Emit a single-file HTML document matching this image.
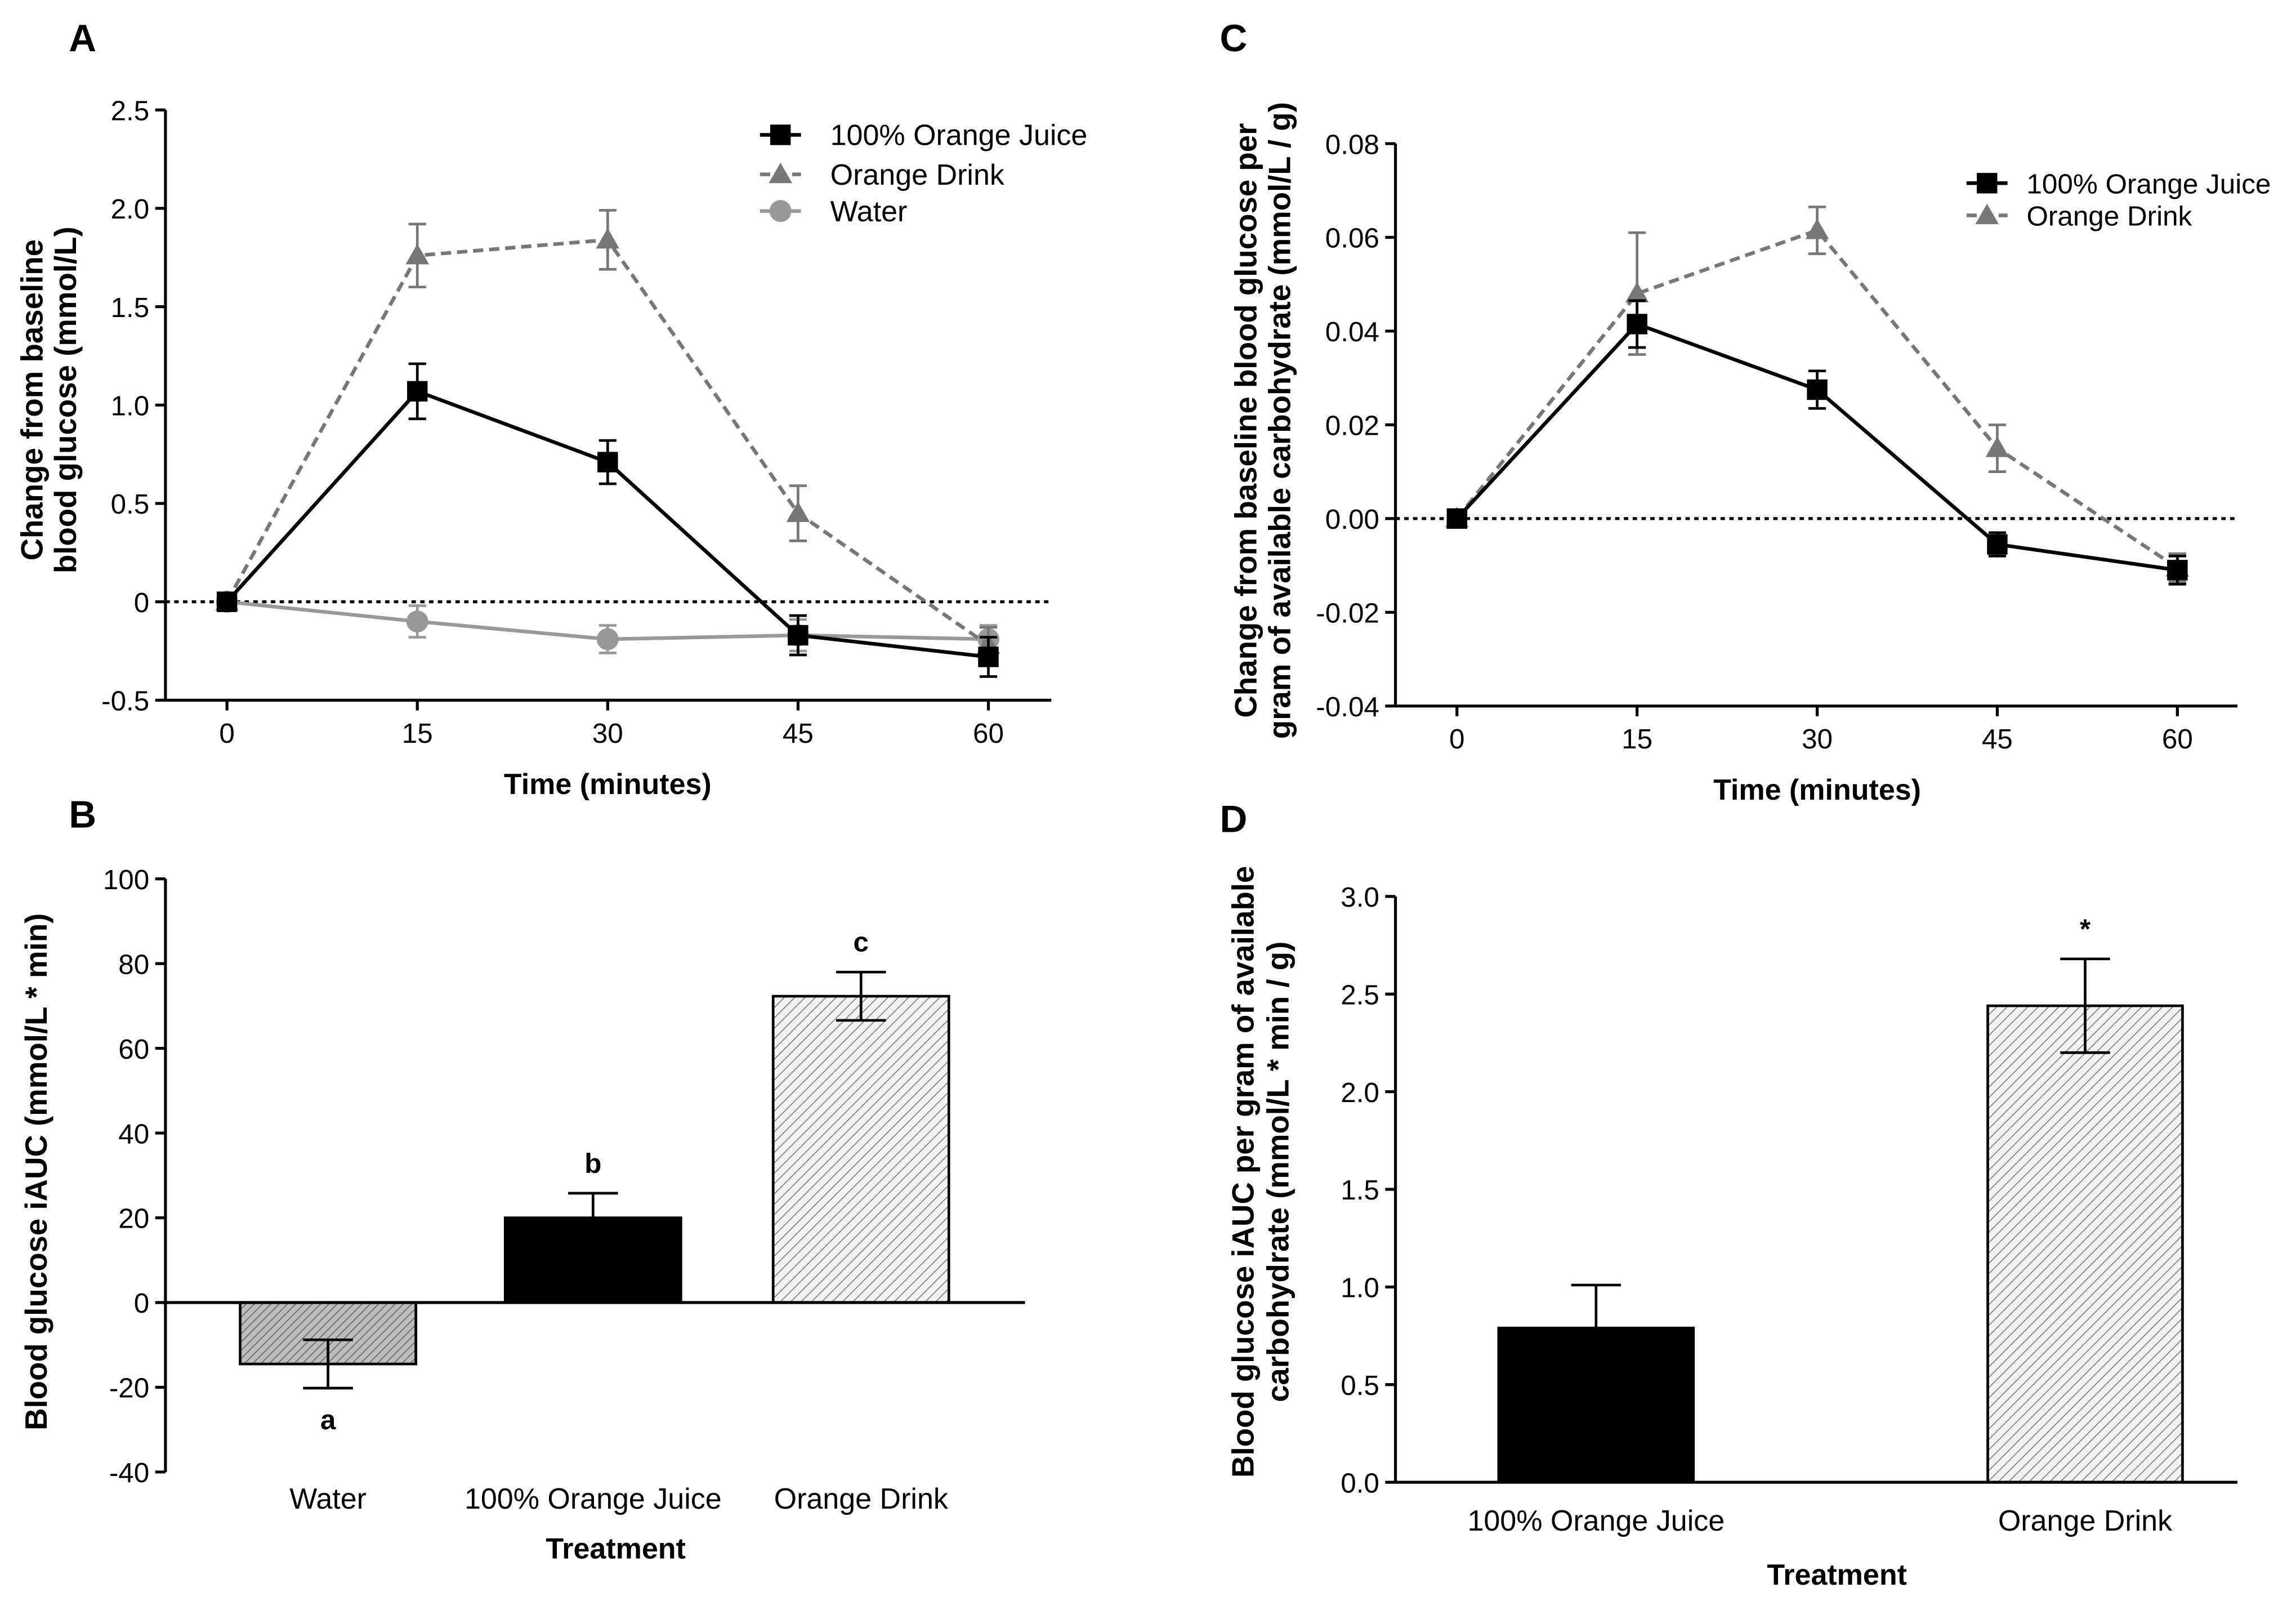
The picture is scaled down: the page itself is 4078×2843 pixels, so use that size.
<!DOCTYPE html>
<html><head><meta charset="utf-8"><style>
html,body{margin:0;padding:0;background:#fff}
svg{display:block}
text{font-family:"Liberation Sans",Arial,sans-serif;fill:#000}
</style></head><body>
<svg id="fig" width="4078" height="2843" viewBox="0 0 1568 1093" xmlns="http://www.w3.org/2000/svg">
<defs>
<pattern id="hatchLight" patternUnits="userSpaceOnUse" width="5" height="5" patternTransform="rotate(45)">
<rect width="5" height="5" fill="#f2f2f2"/><line x1="0" y1="0" x2="0" y2="5" stroke="#777" stroke-width="1.2"/></pattern>
<pattern id="hatchDark" patternUnits="userSpaceOnUse" width="4" height="4" patternTransform="rotate(45)">
<rect width="4" height="4" fill="#bdbdbd"/><line x1="0" y1="0" x2="0" y2="4" stroke="#666" stroke-width="1.3"/></pattern>
</defs>
</svg>
<script>
const timesA=[0,15,30,45,60];
const ojA=[0,1.07,0.71,-0.17,-0.28];
const ojAerr=[0,0.14,0.11,0.1,0.1];
const odA=[0,1.76,1.84,0.45,-0.22];
const odAerr=[0,0.16,0.15,0.14,0.09];
const waterA=[0,-0.1,-0.19,-0.17,-0.19];
const waterAerr=[0,0.08,0.07,0.08,0.07];
const ticksA=[-0.5,0,0.5,1.0,1.5,2.0,2.5];
const tickLabelsA=["-0.5","0","0.5","1.0","1.5","2.0","2.5"];
const ojC=[0,0.0415,0.0275,-0.0055,-0.011];
const ojCerr=[0,0.005,0.004,0.0025,0.003];
const odC=[0,0.048,0.0615,0.015,-0.0105];
const odCerr=[0,0.013,0.005,0.005,0.003];
const ticksC=[-0.04,-0.02,0,0.02,0.04,0.06,0.08];
const tickLabelsC=["-0.04","-0.02","0.00","0.02","0.04","0.06","0.08"];
const catsB=["Water","100% Orange Juice","Orange Drink"];
const valsB=[-14.5,20,72.3];
const errB=[5.7,5.8,5.7];
const lettersB=["a","b","c"];
const ticksB=[-40,-20,0,20,40,60,80,100];
const catsD=["100% Orange Juice","Orange Drink"];
const valsD=[0.79,2.44];
const errD=[0.22,0.24];
const ticksD=[0,0.5,1.0,1.5,2.0,2.5,3.0];
const tickLabelsD=["0.0","0.5","1.0","1.5","2.0","2.5","3.0"];

const svg=document.getElementById('fig');
const NS='http://www.w3.org/2000/svg';
function mk(tag,attrs,parent){const e=document.createElementNS(NS,tag);for(const k in attrs)e.setAttribute(k,attrs[k]);(parent||svg).appendChild(e);return e;}
function txt(x,y,s,size,opts,parent){opts=opts||{};const e=mk('text',{x:x,y:y,'font-size':size,'text-anchor':opts.anchor||'middle','font-weight':opts.bold?'bold':'normal'},parent);if(opts.rot)e.setAttribute('transform','rotate(-90 '+x+' '+y+')');e.textContent=s;return e;}
function lin(x1,y1,x2,y2,st,w,dash,parent){const e=mk('line',{x1:x1,y1:y1,x2:x2,y2:y2,stroke:st,'stroke-width':w},parent);if(dash)e.setAttribute('stroke-dasharray',dash);return e;}

function axes(g,x0,x1,yTop,yBot,yAxisAt,ticks,labels,ys){
  const ya=lin(x0,yTop,x0,yBot,'#000',2,null,g);
  
  
  const xa=lin(x0,yAxisAt,x1,yAxisAt,'#000',2,null,g);
  
  
  ticks.forEach((t,i)=>{const y=ys(t);lin(x0-7,y,x0,y,'#000',2,null,g);
    const l=txt(x0-11,y+7,labels[i],19,{anchor:'end'},g);
    
    });
}

function linePanel(name,letter,lx,ly,x0,x1,yTop,yBot,vmin,vmax,ticks,labels,xs0,xsStep,series,legend,ytitle,ytx,legOff,legSize){
  const g=mk('g',{});
  
  
  const ys=v=>yBot-(v-vmin)/(vmax-vmin)*(yBot-yTop);
  const xs=t=>xs0+t/15*xsStep;
  const L=txt(lx,ly,letter,26,{bold:true,anchor:'start'},g);
  
  
  axes(g,x0,x1,yTop,yBot,yBot,ticks,labels,ys);
  timesA.forEach(t=>{const x=xs(t);lin(x,yBot,x,yBot+7,'#000',2,null,g);
    const l=txt(x,yBot+29,String(t),19,{},g);
    
    });
  const z=lin(x0,ys(0),x1,ys(0),'#000',2,'3 3',g);
  
  
  series.forEach(s=>{
    const sg=mk('g',{},g);
    
    
    s.vals.forEach((v,i)=>{const x=xs(timesA[i]);const e=s.err[i];if(e>0){
      lin(x,ys(v-e),x,ys(v+e),s.color,1.8,null,sg);lin(x-6,ys(v+e),x+6,ys(v+e),s.color,1.8,null,sg);lin(x-6,ys(v-e),x+6,ys(v-e),s.color,1.8,null,sg);}});
    const pts=s.vals.map((v,i)=>xs(timesA[i])+','+ys(v)).join(' ');
    const pl=mk('polyline',{points:pts,fill:'none',stroke:s.color,'stroke-width':2.5},sg);
    if(s.dash)pl.setAttribute('stroke-dasharray',s.dash);
    s.vals.forEach((v,i)=>{const m=marker(s.shape,xs(timesA[i]),ys(v),s.color,sg);
      
      });
  });
  legend.forEach(le=>{const lg=mk('g',{},g);
    
    
    lin(le.x-14,le.y,le.x+14,le.y,le.color,2.5,le.dash,lg);
    marker(le.shape,le.x,le.y,le.color,lg);
    txt(le.x+legOff,le.y+7,le.label,legSize,{anchor:'start'},lg);});
  ytitle.forEach((s,i)=>{const t=txt(ytx[i],ytx.cy,s,21,{bold:true,rot:true},g);
    
    });
  const xt=txt(xs(30),yBot+64,'Time (minutes)',20,{bold:true},g);
  
  
}
function marker(shape,x,y,c,p){
  if(shape==='sq')return mk('rect',{x:x-7,y:y-7,width:14,height:14,fill:c},p);
  if(shape==='tri')return mk('polygon',{points:(x)+','+(y-8)+' '+(x-8)+','+(y+6)+' '+(x+8)+','+(y+6),fill:c},p);
  return mk('circle',{cx:x,cy:y,r:7.5,fill:c},p);
}

const xA=[29,52];xA.cy=273;
linePanel('panel-a-line-chart','A',47,35,113,718,75,478,-0.5,2.5,ticksA,tickLabelsA,155,130,[
 {name:'series-water',vals:waterA,err:waterAerr,color:'#999',shape:'ci'},
 {name:'series-orange-drink',vals:odA,err:odAerr,color:'#777',shape:'tri',dash:'7 4'},
 {name:'series-orange-juice',vals:ojA,err:ojAerr,color:'#000',shape:'sq'}],
 [{x:533,y:92,label:'100% Orange Juice',color:'#000',shape:'sq'},{x:533,y:119,label:'Orange Drink',color:'#777',shape:'tri',dash:'7 4'},{x:533,y:144,label:'Water',color:'#999',shape:'ci'}],
 ['Change from baseline','blood glucose (mmol/L)'],xA,34,20);
const xC=[858,881];xC.cy=287;
linePanel('panel-c-line-chart','C',833,35,953,1528,98,482,-0.04,0.08,ticksC,tickLabelsC,995,123,[
 {name:'series-orange-drink',vals:odC,err:odCerr,color:'#777',shape:'tri',dash:'7 4'},
 {name:'series-orange-juice',vals:ojC,err:ojCerr,color:'#000',shape:'sq'}],
 [{x:1357,y:125,label:'100% Orange Juice',color:'#000',shape:'sq'},{x:1357,y:147,label:'Orange Drink',color:'#777',shape:'tri',dash:'7 4'}],
 ['Change from baseline blood glucose per','gram of available carbohydrate (mmol/L / g)'],xC,27,19);

function barPanel(name,letter,lx,ly,x0,x1,yTop,yBot,vmin,vmax,ticks,labels,cats,vals,errs,centers,bw,fills,annots,catY,ytitle,ytx,cy,titleY){
  const g=mk('g',{});
  
  
  const ys=v=>yBot-(v-vmin)/(vmax-vmin)*(yBot-yTop);
  const L=txt(lx,ly,letter,26,{bold:true,anchor:'start'},g);
  
  
  vals.forEach((v,i)=>{const cx=centers[i];const y0=ys(0),y1=ys(v);
    const b=mk('rect',{x:cx-bw/2,y:Math.min(y0,y1),width:bw,height:Math.abs(y1-y0),fill:fills[i],stroke:'#000','stroke-width':1.8},g);
    
    
    const e=errs[i];
    lin(cx,ys(v-e),cx,ys(v+e),'#000',1.8,null,g);
    lin(cx-17,ys(v+e),cx+17,ys(v+e),'#000',1.8,null,g);
    lin(cx-17,ys(v-e),cx+17,ys(v-e),'#000',1.8,null,g);
    const ay=v>=0?ys(v+e)-14:ys(v-e)+28;
    const a=txt(cx,ay,annots[i],19,{bold:true},g);
    
    
    const c=txt(cx,catY,cats[i],20,{},g);
    
    });
  axes(g,x0,x1,yTop,yBot,ys(0),ticks,labels,ys);
  ytitle.forEach((s,i)=>{const t=txt(ytx[i],cy,s,21,{bold:true,rot:true},g);
    
    });
  const xt=txt((x0+x1)/2+14,titleY,'Treatment',20,{bold:true},g);
  
  
}
barPanel('panel-b-bar-chart','B',47,565,113,700,600,1005,-40,100,ticksB,ticksB.map(String),catsB,valsB,errB,[224,405,588],120,['url(#hatchDark)','#000','url(#hatchLight)'],lettersB,1030,['Blood glucose iAUC (mmol/L * min)'],[32],800,1064);
barPanel('panel-d-bar-chart','D',833,568,953,1528,612,1012,0,3.0,ticksD,tickLabelsD,catsD,valsD,errD,[1090,1424],133,['#000','url(#hatchLight)'],['','*'],1045,['Blood glucose iAUC per gram of available','carbohydrate (mmol/L * min / g)'],[856,880],800,1082);
</script>
</body></html>
